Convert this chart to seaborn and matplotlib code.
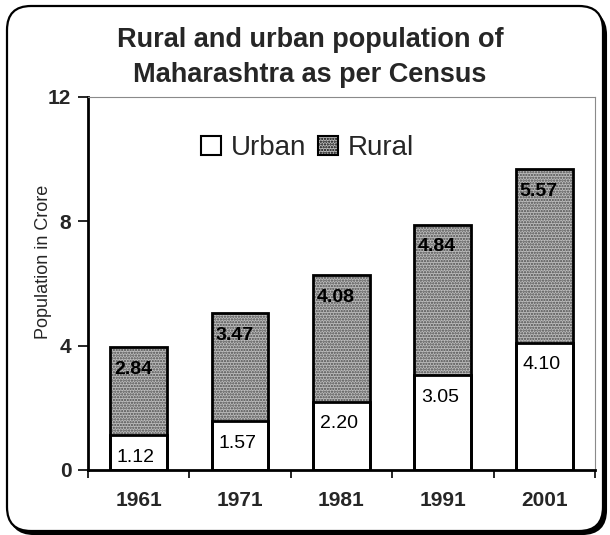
import numpy as np
import pandas as pd
import matplotlib
matplotlib.use("Agg")
import matplotlib.pyplot as plt
import seaborn as sns
from matplotlib.patches import FancyBboxPatch, Patch
from matplotlib.ticker import FixedLocator

# Census population of Maharashtra (crore)
years = ["1961", "1971", "1981", "1991", "2001"]
urban = [1.12, 1.57, 2.20, 3.05, 4.10]
rural = [2.84, 3.47, 4.08, 4.84, 5.57]
y_ticks = [0, 4, 8, 12]

sns.set_theme(style="white")
plt.rcParams["font.family"] = ["Liberation Sans", "DejaVu Sans"]
plt.rcParams["hatch.linewidth"] = 1.1

df = pd.DataFrame({"year": years, "urban": urban, "rural": rural})
df["total"] = df["urban"] + df["rural"]

fig = plt.figure(figsize=(6.1, 5.35), dpi=100)
fig.patch.set_facecolor("white")

# rounded outer frame with a heavier lower-right edge
px = fig.dpi_scale_trans
shadow = FancyBboxPatch((0.10, 0.01), 5.96, 5.23,
                        boxstyle="round,pad=0,rounding_size=0.24",
                        transform=px, facecolor="black", edgecolor="black",
                        linewidth=1.5, zorder=-3)
frame = FancyBboxPatch((0.07, 0.04), 5.96, 5.25,
                       boxstyle="round,pad=0,rounding_size=0.24",
                       transform=px, facecolor="white", edgecolor="black",
                       linewidth=1.6, zorder=-2)
fig.patches.extend([shadow, frame])

ax = fig.add_axes([0.1443, 0.1215, 0.831, 0.6972])
ax.set_facecolor("none")

bar_w = 0.56
# rural part: full stacked height drawn first with a dotted screen
sns.barplot(data=df, x="year", y="total", ax=ax, width=bar_w,
            color="#bdbdbd", edgecolor="#4a4a4a", hatch="......",
            linewidth=0, saturation=1, errorbar=None, zorder=2)
# urban part on the bottom
sns.barplot(data=df, x="year", y="urban", ax=ax, width=bar_w,
            color="white", linewidth=0, saturation=1,
            errorbar=None, zorder=3)
# outlines
sns.barplot(data=df, x="year", y="total", ax=ax, width=bar_w, fill=False,
            color="black", linewidth=2.0, errorbar=None, zorder=4)
sns.barplot(data=df, x="year", y="urban", ax=ax, width=bar_w, fill=False,
            color="black", linewidth=2.0, errorbar=None, zorder=4)

# value labels just below the top of each segment
for i in range(len(years)):
    ax.annotate(f"{urban[i]:.2f}", (i, urban[i]), xytext=(-2, -16),
                textcoords="offset points", ha="center", va="center",
                fontsize=14, color="black", zorder=6)
    ax.annotate(f"{rural[i]:.2f}", (i, urban[i] + rural[i]), xytext=(-4, -16),
                textcoords="offset points", ha="center", va="center",
                fontsize=14, fontweight="bold", color="black", zorder=6)

ax.set_xlim(-0.5, 4.5)
ax.set_ylim(0, 12)
ax.set_yticks(y_ticks)
ax.set_yticklabels([str(t) for t in y_ticks])
ax.set_xticks(range(len(years)))
ax.set_xticklabels(years)
ax.xaxis.set_minor_locator(FixedLocator(np.arange(-0.5, 5.0, 1.0)))
ax.tick_params(axis="x", which="major", length=0, pad=15, labelsize=15)
ax.tick_params(axis="x", which="minor", bottom=True, length=6, width=1.2,
               direction="out", color="black")
ax.tick_params(axis="y", which="major", left=True, length=7, width=1.2,
               direction="out", color="black", pad=5, labelsize=15)
for lab in ax.get_xticklabels() + ax.get_yticklabels():
    lab.set_fontweight("bold")

ax.set_xlabel("")
ax.set_ylabel("Population in Crore", fontsize=13)
ax.yaxis.set_label_coords(-0.071, 0.558)

for side in ["left", "bottom"]:
    ax.spines[side].set_color("black")
    ax.spines[side].set_linewidth(2.0)
for side in ["top", "right"]:
    ax.spines[side].set_color("#8a8a8a")
    ax.spines[side].set_linewidth(0.8)

fig.text(0.508, 0.9121, "Rural and urban population of", ha="center",
         va="baseline", fontsize=19.5, fontweight="bold")
fig.text(0.508, 0.8467, "Maharashtra as per Census", ha="center",
         va="baseline", fontsize=19.5, fontweight="bold")

handles = [
    Patch(facecolor="white", edgecolor="black", linewidth=1.5, label="Urban"),
    Patch(facecolor="#bdbdbd", edgecolor="#4a4a4a", hatch="......",
          linewidth=1.5, label="Rural"),
]
leg = fig.legend(handles=handles, loc="center", bbox_to_anchor=(0.504, 0.723),
                 ncol=2, frameon=False, fontsize=20, handlelength=0.7,
                 handleheight=0.7, handletextpad=0.35, columnspacing=0.45)
for h in leg.legend_handles:
    h.set_edgecolor("black")

fig.savefig("out.png", dpi=100, facecolor="white")
